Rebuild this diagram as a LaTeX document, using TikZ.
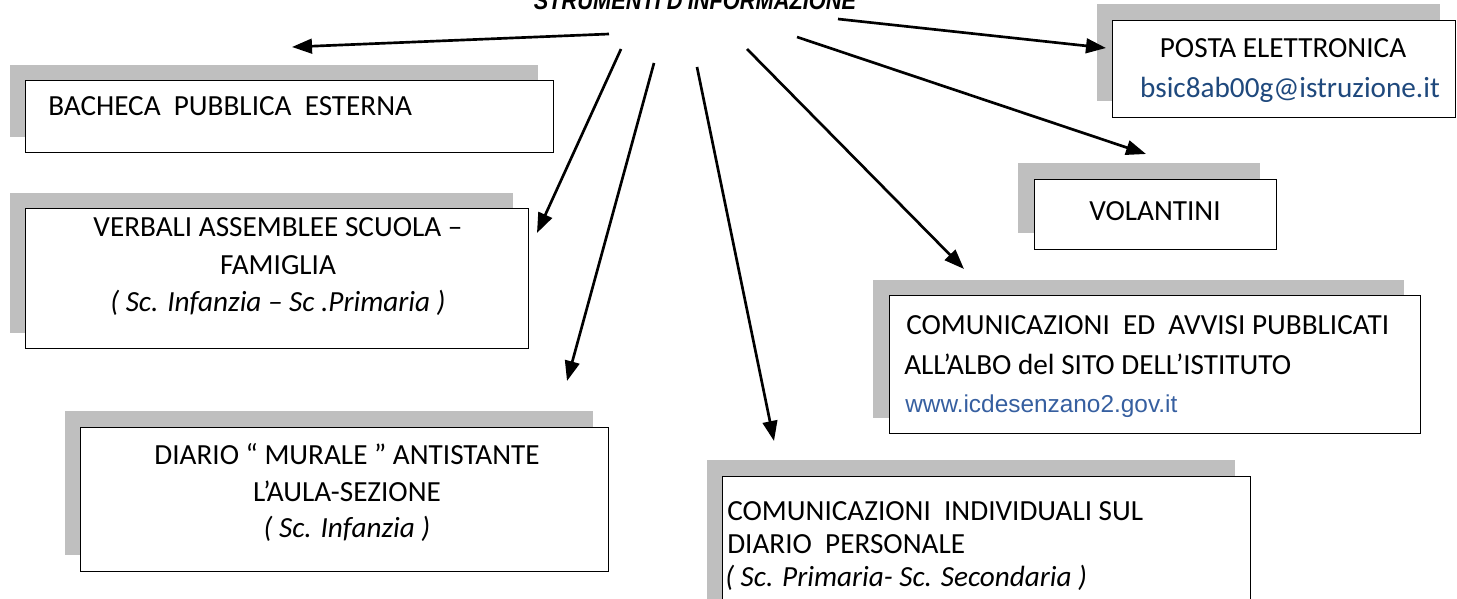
\documentclass[tikz,border=0pt]{standalone}
\usepackage{fontspec}
\setmainfont{Carlito}
\newfontfamily\arialf{Liberation Sans}
\usetikzlibrary{arrows.meta}
\definecolor{shgray}{RGB}{191,191,191}
\definecolor{mailblue}{RGB}{31,73,125}
\definecolor{urlblue}{RGB}{54,95,160}
\tikzset{
  shadowbox/.style={fill=shgray, draw=none, inner sep=0pt, anchor=north west},
  whitebox/.style={fill=white, draw=black, line width=1.1pt, inner sep=0pt, anchor=north west},
  txt/.style={inner sep=0pt, font=\fontsize{21.9}{26}\selectfont},
  conn/.style={line width=2pt, -{Triangle[length=15pt,width=11pt]}},
}
\begin{document}
\begin{tikzpicture}[x=0.75pt,y=-0.75pt]
\useasboundingbox (0,0) rectangle (1457,599);
\clip (0,0) rectangle (1457,599);
% title (cut by the page top)
\node[inner sep=0pt, anchor=base, xscale=0.86, font=\arialf\bfseries\itshape\fontsize{19}{20}\selectfont] (title) at (695,10) {STRUMENTI D'INFORMAZIONE};

% BACHECA
\node[shadowbox, minimum width=528*0.75pt, minimum height=72*0.75pt] (bachecaSh) at (10,65) {};
\node[whitebox, minimum width=528*0.75pt, minimum height=72*0.75pt] (bacheca) at (25,80) {};
\node[txt, anchor=base west] (bachecaT) at (48,116) {BACHECA\ \ PUBBLICA\ \ ESTERNA};

% VERBALI
\node[shadowbox, minimum width=503*0.75pt, minimum height=140*0.75pt] (verbaliSh) at (10,193) {};
\node[whitebox, minimum width=503*0.75pt, minimum height=140*0.75pt] (verbali) at (25,208) {};
\node[txt, anchor=base] (verbaliA) at (278,237) {VERBALI ASSEMBLEE SCUOLA --};
\node[txt, anchor=base] (verbaliB) at (278,274) {FAMIGLIA};
\node[txt, anchor=base] (verbaliC) at (278,311) {\itshape ( Sc. Infanzia -- Sc .Primaria )};

% DIARIO MURALE
\node[shadowbox, minimum width=528*0.75pt, minimum height=144*0.75pt] (diarioSh) at (65,411) {};
\node[whitebox, minimum width=528*0.75pt, minimum height=144*0.75pt] (diario) at (80,427) {};
\node[txt, anchor=base] (diarioA) at (347,464) {DIARIO `` MURALE '' ANTISTANTE};
\node[txt, anchor=base] (diarioB) at (347,501) {L'AULA-SEZIONE};
\node[txt, anchor=base] (diarioC) at (347,537) {\itshape ( Sc. Infanzia )};

% COMUNICAZIONI INDIVIDUALI
\node[shadowbox, minimum width=528*0.75pt, minimum height=150*0.75pt] (indivSh) at (707,460) {};
\node[whitebox, minimum width=528*0.75pt, minimum height=150*0.75pt] (indiv) at (722,476) {};
\node[txt, anchor=base west] (indivA) at (727,520) {COMUNICAZIONI\ \ INDIVIDUALI SUL};
\node[txt, anchor=base west] (indivB) at (727,553) {DIARIO\ \ PERSONALE};
\node[txt, anchor=base west] (indivC) at (725,586) {\itshape ( Sc. Primaria- Sc. Secondaria )};

% COMUNICAZIONI ED AVVISI
\node[shadowbox, minimum width=531*0.75pt, minimum height=138*0.75pt] (avvisiSh) at (873,280) {};
\node[whitebox, minimum width=531*0.75pt, minimum height=138*0.75pt] (avvisi) at (889,295) {};
\node[txt, anchor=base west] (avvisiA) at (906,334) {COMUNICAZIONI\ \ ED\ \ AVVISI PUBBLICATI};
\node[txt, anchor=base west] (avvisiB) at (904,374) {ALL'ALBO del SITO DELL'ISTITUTO};
\node[txt, anchor=base west, text=urlblue, font=\arialf\fontsize{18.3}{22}\selectfont] (avvisiC) at (905,412) {www.icdesenzano2.gov.it};

% VOLANTINI
\node[shadowbox, minimum width=242*0.75pt, minimum height=70*0.75pt] (volantiniSh) at (1018,163) {};
\node[whitebox, minimum width=242*0.75pt, minimum height=70*0.75pt] (volantini) at (1034,179) {};
\node[txt, anchor=base] (volantiniT) at (1155,221) {VOLANTINI};

% POSTA ELETTRONICA
\node[shadowbox, minimum width=343*0.75pt, minimum height=97*0.75pt] (postaSh) at (1097,4) {};
\node[whitebox, minimum width=343*0.75pt, minimum height=97*0.75pt] (posta) at (1112,20) {};
\node[txt, anchor=base] (postaA) at (1283,58) {POSTA ELETTRONICA};
\node[txt, anchor=base, text=mailblue] (postaB) at (1290,98) {bsic8ab00g@istruzione.it};

% connector ends
\coordinate (sA) at (609,34);  \coordinate (eA) at (292,47);
\coordinate (sB) at (621,49);  \coordinate (eB) at (537,233);
\coordinate (sC) at (654,63);  \coordinate (eC) at (567,381);
\coordinate (sD) at (697,67);  \coordinate (eD) at (774,441);
\coordinate (sE) at (747,49);  \coordinate (eE) at (964,269);
\coordinate (sF) at (797,37);  \coordinate (eF) at (1146,154);
\coordinate (sG) at (838,19);  \coordinate (eG) at (1106,48);

\draw[conn] (sA) -- (eA);
\draw[conn] (sB) -- (eB);
\draw[conn] (sC) -- (eC);
\draw[conn] (sD) -- (eD);
\draw[conn] (sE) -- (eE);
\draw[conn] (sF) -- (eF);
\draw[conn] (sG) -- (eG);
\end{tikzpicture}
\end{document}
